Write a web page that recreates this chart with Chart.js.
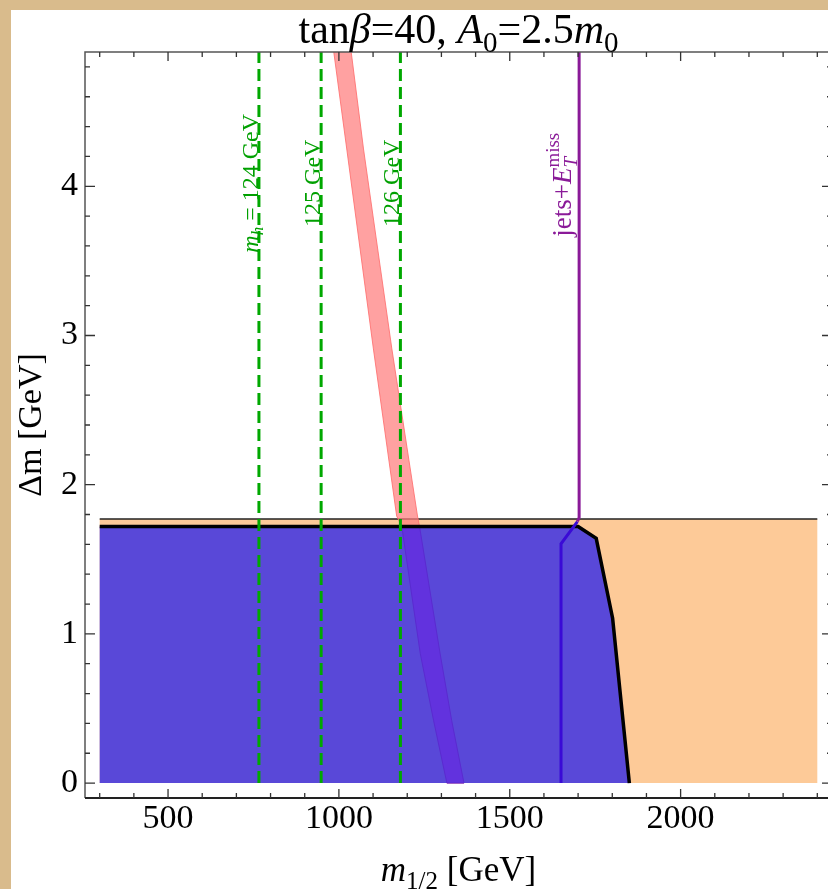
<!DOCTYPE html>
<html lang="en">
<head>
<meta charset="UTF-8">
<title>tanβ=40, A0=2.5m0</title>
<script src="https://cdn.jsdelivr.net/npm/chart.js"></script>
<style>
  html, body { margin: 0; padding: 0; overflow: hidden; }
  body { width: 828px; height: 889px; background: #d9bb8c; position: relative; }
  #panel { position: absolute; left: 11px; top: 10px; width: 840px; height: 879px; background: #fff; }
  canvas { display: block; }
</style>
</head>
<body>
<div id="panel"><canvas id="chart" width="840" height="879"></canvas></div>
<script>
// axes
const xRange = [257, 2443];
const yRange = [-0.1, 4.9];
const xTicks = [500, 1000, 1500, 2000];
const yTicks = [0, 1, 2, 3, 4];

// orange (allowed stau region) rectangle
const orangeX = [300, 2400, 2400, 300];
const orangeY = [0, 0, 1.77, 1.77];
const orangeTopX = [300, 2400];
const orangeTopY = [1.77, 1.77];

// blue excluded region, outline
const blueX = [300, 300, 1700, 1753, 1801, 1850];
const blueY = [0, 1.72, 1.72, 1.64, 1.105, 0];

// red band (edges)
const bandY = [4.9, 4.25, 2.91, 1.79, 1.72, 0.87, 0.42, 0];
const bandLeft = [985, 1023, 1101, 1169, 1184, 1238, 1277, 1316];
const bandRight = [1036, 1072, 1155, 1230, 1236, 1296, 1330, 1366];

// jets + missing ET limit
const jetsX = [1650, 1650, 1698];
const jetsY = [0, 1.604, 1.753];
const jetsUpX = [1698, 1703, 1703];
const jetsUpY = [1.753, 1.78, 4.9];

// Higgs mass contours
const higgsX = [766, 948, 1180];
const higgsLabels = ['124 GeV', '125 GeV', '126 GeV'];
const labelY = 4.02;

const SERIF = '"Liberation Serif", "Times New Roman", serif';

function pts(xs, ys) {
  return xs.map((x, i) => ({ x: x, y: ys[i] }));
}

// band polygon: left edge going down, right edge going up
function bandPoly(from, to) {
  const l = [], r = [];
  for (let i = from; i <= to; i++) {
    l.push({ x: bandLeft[i], y: bandY[i] });
    r.unshift({ x: bandRight[i], y: bandY[i] });
  }
  return l.concat(r);
}

function fontFor(kind, size) {
  const small = kind === 'sub' || kind === 'isub' || kind === 'sup';
  const italic = kind === 'i' || kind === 'isub';
  return (italic ? 'italic ' : '') + Math.round(small ? size * 0.7 : size) + 'px ' + SERIF;
}

// draws mixed text (italic / sub / sup) centred on x, baseline on y
function drawRich(ctx, parts, size, color, x, y, rot) {
  ctx.save();
  ctx.translate(x, y);
  if (rot) ctx.rotate(rot);
  ctx.fillStyle = color;
  ctx.textBaseline = 'alphabetic';
  ctx.textAlign = 'left';
  let w = 0;
  const items = [];
  for (const [text, kind, keep] of parts) {
    const f = fontFor(kind, size);
    ctx.font = f;
    const dy = (kind === 'sub' || kind === 'isub') ? size * 0.22 : kind === 'sup' ? -size * 0.45 : 0;
    items.push({ text, f, x: w, dy });
    if (!keep) w += ctx.measureText(text).width;
  }
  for (const it of items) {
    ctx.font = it.f;
    ctx.fillText(it.text, it.x - w / 2, it.dy);
  }
  ctx.restore();
}

const decorations = {
  id: 'decorations',
  afterDatasetsDraw(chart) {
    const { ctx, chartArea: a, scales: { x, y } } = chart;
    ctx.save();
    // frame
    ctx.strokeStyle = '#555';
    ctx.lineWidth = 1.5;
    ctx.beginPath();
    ctx.moveTo(a.left, a.bottom); ctx.lineTo(a.left, a.top);
    ctx.lineTo(a.right, a.top); ctx.lineTo(a.right, a.bottom);
    ctx.stroke();
    ctx.strokeStyle = '#222';
    ctx.lineWidth = 2;
    ctx.beginPath();
    ctx.moveTo(a.left, a.bottom); ctx.lineTo(a.right, a.bottom);
    ctx.stroke();

    // inward ticks
    ctx.strokeStyle = '#333';
    ctx.lineWidth = 1.3;
    ctx.beginPath();
    for (let v = 300; v <= 2400; v += 100) {
      const px = x.getPixelForValue(v);
      const len = v % 500 === 0 ? 9 : 5;
      ctx.moveTo(px, a.bottom); ctx.lineTo(px, a.bottom - len);
      ctx.moveTo(px, a.top); ctx.lineTo(px, a.top + len);
    }
    for (let i = 0; i <= 24; i++) {
      const py = y.getPixelForValue(i * 0.2);
      const len = i % 5 === 0 ? 10 : 5;
      ctx.moveTo(a.left, py); ctx.lineTo(a.left + len, py);
      ctx.moveTo(a.right, py); ctx.lineTo(a.right - len, py);
    }
    ctx.stroke();
    ctx.restore();

    // contour labels
    const ly = y.getPixelForValue(labelY);
    higgsX.forEach((hx, i) => {
      const parts = i === 0
        ? [['m', 'i'], ['h', 'isub'], [' = ' + higgsLabels[i], 'r']]
        : [[higgsLabels[i], 'r']];
      drawRich(ctx, parts, 24, '#00a000', x.getPixelForValue(hx) - 1, ly, -Math.PI / 2);
    });
    drawRich(ctx, [['jets+', 'r'], ['E', 'i'], ['T', 'isub', true], ['miss', 'sup']], 27, '#8a1a98',
      x.getPixelForValue(jetsUpX[2]) - 8, y.getPixelForValue(4.01), -Math.PI / 2);

    // titles
    const cx = (a.left + a.right) / 2;
    drawRich(ctx, [['tan', 'r'], ['β', 'i'], ['=40, ', 'r'], ['A', 'i'], ['0', 'sub'], ['=2.5', 'r'], ['m', 'i'], ['0', 'sub']],
      42, '#000', cx, 33);
    drawRich(ctx, [['m', 'i'], ['1/2', 'sub'], [' [GeV]', 'r']], 35, '#000', cx, 871);
    drawRich(ctx, [['Δm [GeV]', 'r']], 34, '#000', 30, 415, -Math.PI / 2);
  }
};

const lineDefaults = { showLine: true, pointRadius: 0, pointHoverRadius: 0, tension: 0 };

new Chart(document.getElementById('chart'), {
  type: 'scatter',
  data: {
    datasets: [
      Object.assign({}, lineDefaults, {
        label: 'stau region', data: pts(orangeX, orangeY), order: 20,
        fill: 'shape', backgroundColor: '#fdca98', borderWidth: 0
      }),
      Object.assign({}, lineDefaults, {
        label: 'stau top', data: pts(orangeTopX, orangeTopY), order: 19,
        borderColor: '#222', borderWidth: 1.3
      }),
      Object.assign({}, lineDefaults, {
        label: 'band', data: bandPoly(0, bandY.length - 1), order: 18,
        fill: 'shape', backgroundColor: 'rgba(255,125,125,0.72)',
        borderColor: 'rgba(255,110,110,0.85)', borderWidth: 1
      }),
      Object.assign({}, lineDefaults, {
        label: 'excluded', data: pts(blueX, blueY), order: 17,
        fill: 'shape', backgroundColor: '#5948d8', borderWidth: 0
      }),
      Object.assign({}, lineDefaults, {
        label: 'band (excluded)', data: bandPoly(4, bandY.length - 1), order: 16,
        fill: 'shape', backgroundColor: '#6232de',
        borderColor: '#5a2ad0', borderWidth: 1
      }),
      Object.assign({}, lineDefaults, {
        label: 'boundary', data: pts(blueX.slice(1), blueY.slice(1)), order: 15,
        borderColor: '#000', borderWidth: 3.5
      }),
      Object.assign({}, lineDefaults, {
        label: 'jets low', data: pts(jetsX, jetsY), order: 14,
        borderColor: '#3a0ad6', borderWidth: 3
      }),
      Object.assign({}, lineDefaults, {
        label: 'jets+MET', data: pts(jetsUpX, jetsUpY), order: 13,
        borderColor: '#8a1a98', borderWidth: 3
      })
    ].concat(higgsX.map((hx, i) => Object.assign({}, lineDefaults, {
      label: higgsLabels[i], data: pts([hx, hx], [0, yRange[1]]), order: 5 - i,
      borderColor: '#00a800', borderWidth: 3, borderDash: [12, 6]
    })))
  },
  options: {
    responsive: false,
    animation: false,
    events: [],
    layout: { padding: { top: 42, right: 19, left: 0, bottom: 0 } },
    plugins: { legend: { display: false }, tooltip: { enabled: false }, title: { display: false } },
    scales: {
      x: {
        type: 'linear', min: xRange[0], max: xRange[1],
        grid: { display: false, drawTicks: false }, border: { display: false },
        afterBuildTicks: s => { s.ticks = xTicks.map(v => ({ value: v })); },
        afterFit: s => { s.height = 91; },
        ticks: {
          font: { family: SERIF, size: 34 }, color: '#000', padding: 1, maxRotation: 0, autoSkip: false,
          callback: v => String(v)
        }
      },
      y: {
        type: 'linear', min: yRange[0], max: yRange[1],
        grid: { display: false, drawTicks: false }, border: { display: false },
        afterBuildTicks: s => { s.ticks = yTicks.map(v => ({ value: v })); },
        afterFit: s => { s.width = 74; },
        ticks: { font: { family: SERIF, size: 34 }, color: '#000', padding: 7, autoSkip: false, callback: v => String(v) }
      }
    }
  },
  plugins: [decorations]
});
</script>
</body>
</html>
